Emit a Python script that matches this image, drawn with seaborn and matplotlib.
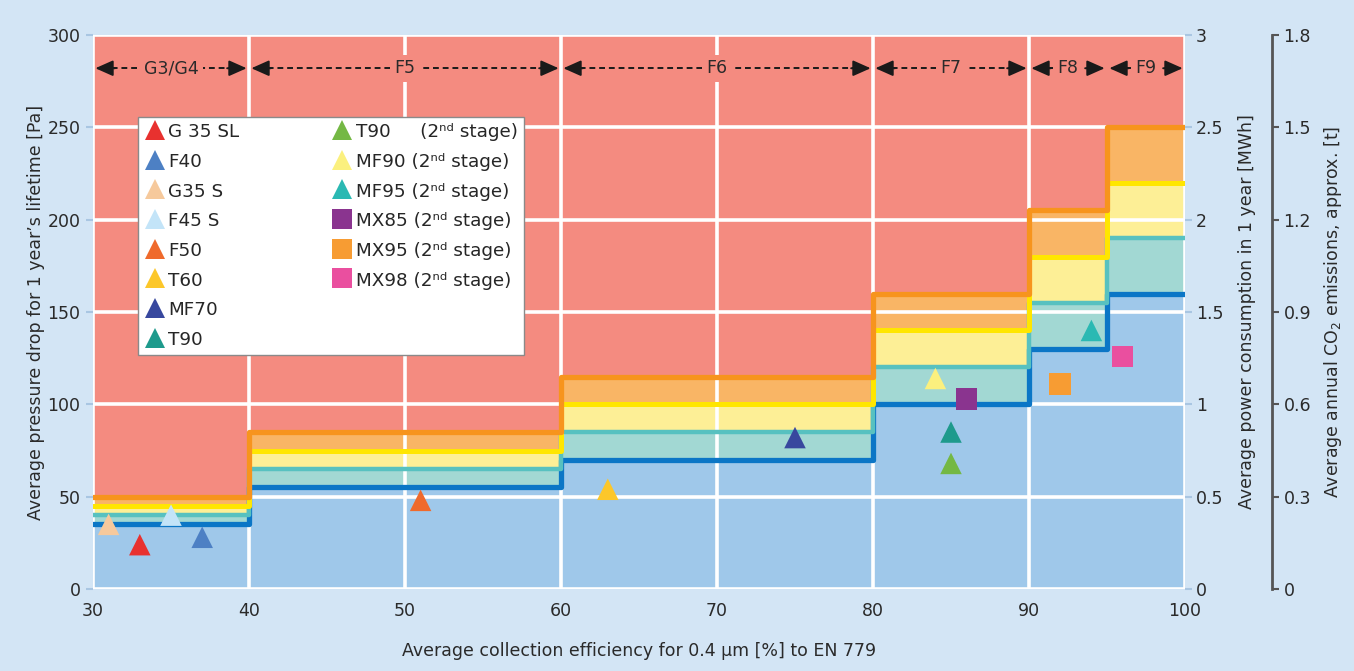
import numpy as np
import pandas as pd
import matplotlib
matplotlib.use("Agg")
import matplotlib.pyplot as plt
from matplotlib.lines import Line2D
import seaborn as sns

# ---------------- data ----------------
edges = [30, 40, 60, 80, 90, 95, 100]
blue_lvl = [35, 55, 70, 100, 130, 160]
teal_lvl = [40, 65, 85, 120, 155, 190]
yellow_lvl = [45, 75, 100, 140, 180, 220]
orange_lvl = [50, 85, 115, 160, 205, 250]

class_lo = [30, 40, 60, 80, 90, 95]
class_hi = [40, 60, 80, 90, 95, 100]
class_names = ["G3/G4", "F5", "F6", "F7", "F8", "F9"]

filter_names = ["G 35 SL", "F40", "G35 S", "F45 S", "F50", "T60", "MF70", "T90",
                "T90 2nd", "MF90 2nd", "MF95 2nd", "MX85 2nd", "MX95 2nd", "MX98 2nd"]
efficiency = [33, 37, 31, 35, 51, 63, 75, 85, 85, 84, 94, 86, 92, 96]
pressure = [24, 28, 35, 40, 48, 54, 82, 85, 68, 114, 140, 103, 111, 126]
marker_kind = ["^", "^", "^", "^", "^", "^", "^", "^", "^", "^", "^", "s", "s", "s"]
marker_color = ["#e8312f", "#4d80c4", "#f6c99c", "#c3e4f8", "#ef6a2c", "#fcc72a",
                "#38489e", "#1e9a8c", "#74b844", "#fbf07e", "#2bb9b3", "#8a348f",
                "#f79c33", "#ea4f9f"]
legend_labels = ["G 35 SL", "F40", "G35 S", "F45 S", "F50", "T60", "MF70", "T90",
                 "T90     (2\u207f\u1d48 stage)", "MF90 (2\u207f\u1d48 stage)",
                 "MF95 (2\u207f\u1d48 stage)", "MX85 (2\u207f\u1d48 stage)",
                 "MX95 (2\u207f\u1d48 stage)", "MX98 (2\u207f\u1d48 stage)"]

x_ticks = [30, 40, 50, 60, 70, 80, 90, 100]
y_ticks = [0, 50, 100, 150, 200, 250, 300]
mwh_ticks = [0, 0.5, 1, 1.5, 2, 2.5, 3]
co2_ticks = [0, 0.3, 0.6, 0.9, 1.2, 1.5, 1.8]

# ---------------- style ----------------
sns.set_style("white")
plt.rcParams["font.family"] = ["DejaVu Sans", "Noto Sans"]
plt.rcParams["font.size"] = 12.5

BG = "#d3e5f5"
SALMON = "#f48b80"
LBLUE = "#9fc8ea"
LTEAL = "#a2d8d3"
LYELLOW = "#fdef96"
LORANGE = "#f9b565"
TXT = "#2a2a2a"

fig = plt.figure(figsize=(13.54, 6.71), dpi=100, facecolor=BG)
ax = fig.add_axes([93 / 1354, 1 - 589 / 671, (1185 - 93) / 1354, (589 - 35) / 671])
ax.set_facecolor(SALMON)

def stepvals(lvl):
    return list(lvl) + [lvl[-1]]

xs = edges
ax.fill_between(xs, 0, stepvals(blue_lvl), step="post", color=LBLUE, lw=0, zorder=0.2)
ax.fill_between(xs, stepvals(blue_lvl), stepvals(teal_lvl), step="post", color=LTEAL, lw=0, zorder=0.2)
ax.fill_between(xs, stepvals(teal_lvl), stepvals(yellow_lvl), step="post", color=LYELLOW, lw=0, zorder=0.2)
ax.fill_between(xs, stepvals(yellow_lvl), stepvals(orange_lvl), step="post", color=LORANGE, lw=0, zorder=0.2)

ax.set_axisbelow(True)
ax.grid(True, color="white", lw=2.6)

ax.step(xs, stepvals(blue_lvl), where="post", color="#0b76c6", lw=3.8, zorder=2)
ax.step(xs, stepvals(teal_lvl), where="post", color="#57c1c0", lw=3.2, zorder=2.1)
ax.step(xs, stepvals(yellow_lvl), where="post", color="#ffe600", lw=3.6, zorder=2.2)
ax.step(xs, stepvals(orange_lvl), where="post", color="#f7941d", lw=3.8, zorder=2.3)

df = pd.DataFrame({"eff": efficiency, "dp": pressure, "name": filter_names})
sns.scatterplot(data=df, x="eff", y="dp", hue="name", style="name",
                palette=dict(zip(filter_names, marker_color)),
                markers=dict(zip(filter_names, marker_kind)),
                s=240, linewidth=0, legend=False, ax=ax, zorder=4)

ax.set_xlim(30, 100)
ax.set_ylim(0, 300)
ax.set_xticks(x_ticks)
ax.set_yticks(y_ticks)
ax.set_xlabel("Average collection efficiency for 0.4 µm [%] to EN 779", color=TXT, labelpad=16)
ax.set_ylabel("Average pressure drop for 1 year\u2019s lifetime [Pa]", color=TXT, labelpad=2)
ax.tick_params(axis="both", colors="#a9c6e2", labelcolor=TXT, length=5, width=1.5,
               labelsize=12.5, direction="out", pad=4)
for sp in ax.spines.values():
    sp.set_visible(False)

# class arrows
Y = 282
for lo, hi, nm in zip(class_lo, class_hi, class_names):
    mid = (lo + hi) / 2
    ax.plot([lo + 0.6, hi - 0.6], [Y, Y], color="#1a1a1a", lw=1.4,
            ls=(0, (3, 2)), zorder=5, solid_capstyle="butt")
    for end, back in ((lo + 0.15, lo + 1.4), (hi - 0.15, hi - 1.4)):
        ax.annotate("", xy=(end, Y), xytext=(back, Y),
                    arrowprops=dict(arrowstyle="-|>,head_length=0.45,head_width=0.2",
                                    mutation_scale=24, color="#1a1a1a", lw=1.4,
                                    shrinkA=0, shrinkB=0), zorder=6)
    ax.text(mid, Y, nm, ha="center", va="center", color=TXT, fontsize=12.5, zorder=7,
            bbox=dict(boxstyle="square,pad=0.25", fc=SALMON, ec="none"))

# legend
handles = []
for mk, col, lab in zip(marker_kind, marker_color, legend_labels):
    handles.append(Line2D([], [], ls="none", marker=mk, color=col, markersize=14,
                          markeredgewidth=0, label=lab))
blank = Line2D([], [], ls="none", marker=None, label=" ")
handles = handles[:8] + handles[8:] + [blank, blank]
leg = ax.legend(handles=handles, ncol=2, loc="upper left", bbox_to_anchor=(0.041, 0.852),
                borderaxespad=0, frameon=True, fancybox=False, facecolor="white",
                edgecolor="#8a8a8a", framealpha=1, fontsize=13.2, labelspacing=0.61,
                handleheight=1.0, handletextpad=0.15, handlelength=1.2,
                columnspacing=5.0, borderpad=0.32)
leg.get_frame().set_linewidth(1.0)
leg.set_zorder(10)

# right axis 1: MWh
ax2 = ax.twinx()
ax2.set_ylim(0, 3)
ax2.set_yticks(mwh_ticks)
ax2.set_yticklabels(["0", "0.5", "1", "1.5", "2", "2.5", "3"])
ax2.tick_params(axis="y", colors="#a9c6e2", labelcolor=TXT, length=5, width=1.5,
                labelsize=12.5, pad=3)
ax2.set_ylabel("Average power consumption in 1 year [MWh]", color=TXT, labelpad=10)
for sp in ax2.spines.values():
    sp.set_visible(False)

# right axis 2: CO2
ax3 = ax.twinx()
ax3.spines["right"].set_position(("axes", 1.08))
ax3.set_ylim(0, 1.8)
ax3.set_yticks(co2_ticks)
ax3.set_yticklabels(["0", "0.3", "0.6", "0.9", "1.2", "1.5", "1.8"])
for k, sp in ax3.spines.items():
    sp.set_visible(k == "right")
ax3.spines["right"].set_color("#555555")
ax3.spines["right"].set_linewidth(2)
ax3.tick_params(axis="y", colors="#555555", labelcolor=TXT, length=5, width=1.5,
                labelsize=12.5, pad=3)
ax3.set_ylabel("Average annual CO$_2$ emissions, approx. [t]", color=TXT, labelpad=8)

fig.savefig("out.png", dpi=100, facecolor=BG)
